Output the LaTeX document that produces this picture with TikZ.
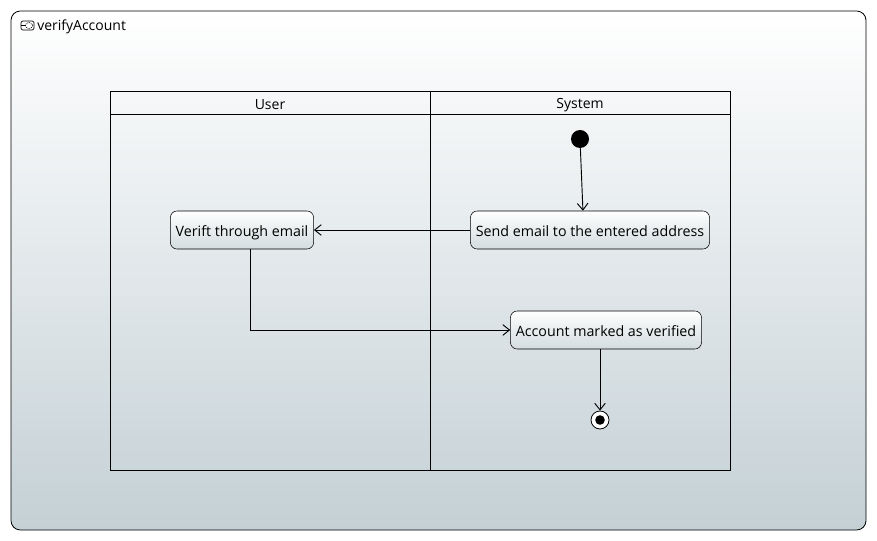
\documentclass[tikz,border=0pt]{standalone}
\usepackage{fontspec}
\setmainfont{Open Sans}
\usetikzlibrary{arrows.meta}
\definecolor{framebot}{HTML}{C4D0D5}
\definecolor{boxbot}{HTML}{D3DCDF}
\tikzset{
  action/.style={draw, rounded corners=5pt, top color=white, bottom color=boxbot,
    minimum height=28.5pt, inner xsep=4pt, text height=9.6pt, text depth=0pt,
    font=\fontsize{10.7}{12}\selectfont},
  flow/.style={-{Straight Barb[length=5pt,width=8pt]}, line width=0.7pt},
  lanetitle/.style={font=\fontsize{10.5}{12}\selectfont}
}
\begin{document}
\begin{tikzpicture}[x=0.75pt, y=-0.75pt]
	\useasboundingbox (0,0) rectangle (877,541);
	\fill[white] (0,0) rectangle (877,541);
	
	% frame
	\draw[rounded corners=7pt, top color=white, bottom color=framebot, line width=0.6pt] (11,11) rectangle (866,530);
	\draw[line width=0.5pt, rounded corners=1.5pt] (21,21) rectangle (34,30);
	\draw[line width=0.4pt, dashed, dash pattern=on 0.8pt off 0.6pt] (29,25.5) ellipse (3.6 and 3);
	\draw[line width=0.4pt] (21,25.5) -- (25,25.5);
	\node [right, inner sep=0pt, font=\fontsize{10.5}{12}\selectfont] (title) at (37,27) {verifyAccount};
	
	% lanes
	\draw[line width=0.6pt] (110,91) rectangle (730,470);
	\draw[line width=0.6pt] (110,114) -- (730,114);
	\draw[line width=0.6pt] (430,91) -- (430,470);
	\node [lanetitle] (user) at (270,105) {User};
	\node [lanetitle] (system) at (580,105) {System};
	
	% nodes
	\node [circle, fill=black, minimum size=13.5pt, inner sep=0pt] (init) at (580,139) {};
	\node [action] (send) at (590,230) {Send email to the entered address};
	\node [action] (verift) at (242,230) {Verift through email};
	\node [action] (account) at (606,330) {Account marked as verified};
	\node [circle, draw, fill=white, line width=0.6pt, minimum size=13.5pt, inner sep=0pt] (final) at (600,420) {};
	\fill (final) circle (3.6pt);
	
	% flows
	\draw[flow] (init) -- ([xshift=-5.3pt]send.north);
	\draw[flow] (send.west) -- (verift.east);
	\draw[flow] ([xshift=6pt]verift.south) |- (account.west);
	\draw[flow] (account.south -| final) -- (final);
	
\end{tikzpicture}
\end{document}
